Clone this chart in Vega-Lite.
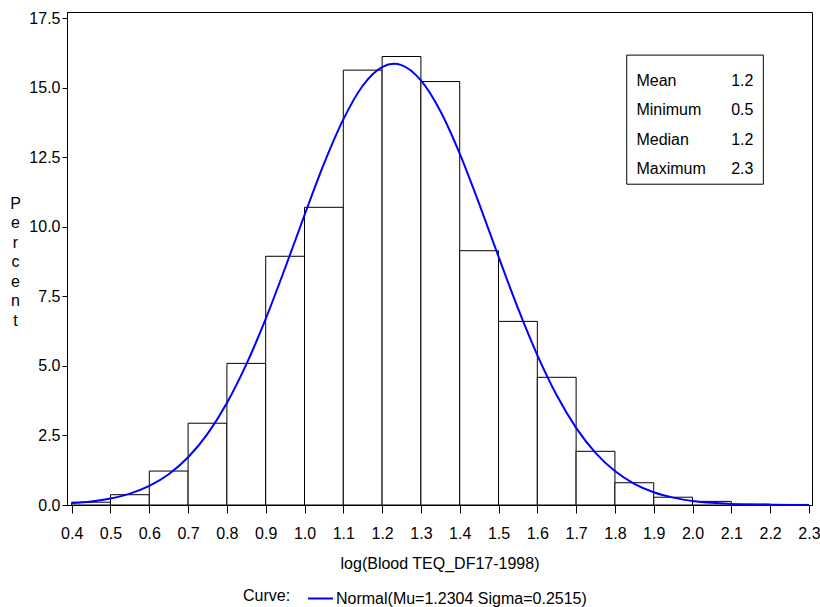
{
  "$schema": "https://vega.github.io/schema/vega-lite/v6.json",
  "autosize": {"type": "none"},
  "width": 745,
  "height": 493,
  "padding": {"left": 67, "top": 12, "right": 8, "bottom": 102},
  "background": "white",
  "config": {
    "font": "Liberation Sans",
    "view": {"stroke": "#000000", "strokeWidth": 1},
    "axis": {"labelFont": "Liberation Sans", "titleFont": "Liberation Sans", "labelFontSize": 16, "titleFontSize": 16, "labelColor": "#000", "titleColor": "#000", "titleFontWeight": "normal", "domainColor": "#000", "tickColor": "#000", "grid": false},
    "legend": {"labelFont": "Liberation Sans", "titleFont": "Liberation Sans"}
  },
  "datasets": {
    "bars": [
      {"bin_start": 0.4, "bin_end": 0.5, "percent": 0.1},
      {"bin_start": 0.5, "bin_end": 0.6, "percent": 0.37},
      {"bin_start": 0.6, "bin_end": 0.7, "percent": 1.22},
      {"bin_start": 0.7, "bin_end": 0.8, "percent": 2.94},
      {"bin_start": 0.8, "bin_end": 0.9, "percent": 5.09},
      {"bin_start": 0.9, "bin_end": 1.0, "percent": 8.94},
      {"bin_start": 1.0, "bin_end": 1.1, "percent": 10.7},
      {"bin_start": 1.1, "bin_end": 1.2, "percent": 15.63},
      {"bin_start": 1.2, "bin_end": 1.3, "percent": 16.12},
      {"bin_start": 1.3, "bin_end": 1.4, "percent": 15.22},
      {"bin_start": 1.4, "bin_end": 1.5, "percent": 9.14},
      {"bin_start": 1.5, "bin_end": 1.6, "percent": 6.6},
      {"bin_start": 1.6, "bin_end": 1.7, "percent": 4.59},
      {"bin_start": 1.7, "bin_end": 1.8, "percent": 1.93},
      {"bin_start": 1.8, "bin_end": 1.9, "percent": 0.8},
      {"bin_start": 1.9, "bin_end": 2.0, "percent": 0.28},
      {"bin_start": 2.0, "bin_end": 2.1, "percent": 0.13},
      {"bin_start": 2.1, "bin_end": 2.2, "percent": 0.03},
      {"bin_start": 2.2, "bin_end": 2.3, "percent": 0.02}
    ],
    "curve": [
      {"x": 0.40, "y": 0.068}, {"x": 0.45, "y": 0.129}, {"x": 0.50, "y": 0.234}, {"x": 0.55, "y": 0.408},
      {"x": 0.60, "y": 0.685}, {"x": 0.65, "y": 1.106}, {"x": 0.70, "y": 1.716}, {"x": 0.75, "y": 2.559},
      {"x": 0.80, "y": 3.667}, {"x": 0.85, "y": 5.053}, {"x": 0.90, "y": 6.691}, {"x": 0.95, "y": 8.518},
      {"x": 1.00, "y": 10.42}, {"x": 1.05, "y": 12.26}, {"x": 1.10, "y": 13.86}, {"x": 1.15, "y": 15.07},
      {"x": 1.20, "y": 15.74}, {"x": 1.2304, "y": 15.86}, {"x": 1.25, "y": 15.81}, {"x": 1.30, "y": 15.26},
      {"x": 1.35, "y": 14.16}, {"x": 1.40, "y": 12.63}, {"x": 1.45, "y": 10.83}, {"x": 1.50, "y": 8.928},
      {"x": 1.55, "y": 7.073}, {"x": 1.60, "y": 5.387}, {"x": 1.65, "y": 3.942}, {"x": 1.70, "y": 2.774},
      {"x": 1.75, "y": 1.876}, {"x": 1.80, "y": 1.22}, {"x": 1.85, "y": 0.763}, {"x": 1.90, "y": 0.458},
      {"x": 1.95, "y": 0.265}, {"x": 2.00, "y": 0.147}, {"x": 2.05, "y": 0.078}, {"x": 2.10, "y": 0.04},
      {"x": 2.15, "y": 0.02}, {"x": 2.20, "y": 0.009}, {"x": 2.25, "y": 0.004}, {"x": 2.30, "y": 0.002}
    ],
    "stats": [
      {"stat": "Mean", "value": "1.2"},
      {"stat": "Minimum", "value": "0.5"},
      {"stat": "Median", "value": "1.2"},
      {"stat": "Maximum", "value": "2.3"}
    ]
  },
  "layer": [
    {
      "layer": [
        {
          "data": {"name": "bars"},
          "mark": {"type": "rect", "fill": "white", "stroke": "#000", "strokeWidth": 1},
          "encoding": {
            "x": {"field": "bin_start", "type": "quantitative",
              "scale": {"domain": [0.3879, 2.3079], "nice": false, "zero": false},
              "axis": {"title": "log(Blood TEQ_DF17-1998)", "values": [0.4,0.5,0.6,0.7,0.8,0.9,1.0,1.1,1.2,1.3,1.4,1.5,1.6,1.7,1.8,1.9,2.0,2.1,2.2,2.3], "format": ".1f", "tickSize": 8, "labelPadding": 12, "titleY": 58, "titleBaseline": "middle", "labelFlush": false, "labelOverlap": false}},
            "x2": {"field": "bin_end"},
            "y": {"field": "percent", "type": "quantitative",
              "scale": {"domain": [0, 17.72], "nice": false},
              "axis": {"title": ["P","e","r","c","e","n","t"], "titleAngle": 0, "titleAlign": "center", "titleBaseline": "middle", "titleLineHeight": 19.5, "titleX": -52, "titleY": 191, "values": [0,2.5,5,7.5,10,12.5,15,17.5], "format": ".1f", "tickSize": 5, "labelPadding": 2}},
            "y2": {"datum": 0}
          }
        },
        {
          "data": {"name": "curve"},
          "mark": {"type": "line", "strokeWidth": 2, "interpolate": "monotone"},
          "encoding": {
            "x": {"field": "x", "type": "quantitative",
              "axis": {"title": "log(Blood TEQ_DF17-1998)", "values": [0.4,0.5,0.6,0.7,0.8,0.9,1.0,1.1,1.2,1.3,1.4,1.5,1.6,1.7,1.8,1.9,2.0,2.1,2.2,2.3], "format": ".1f", "tickSize": 8, "labelPadding": 12, "titleY": 58, "titleBaseline": "middle", "labelFlush": false, "labelOverlap": false}},
            "y": {"field": "y", "type": "quantitative"},
            "color": {"datum": "Normal(Mu=1.2304 Sigma=0.2515)", "type": "nominal",
              "scale": {"range": ["#0000ff"]},
              "legend": {"title": "Curve:", "orient": "none", "legendX": 176, "legendY": 573, "direction": "horizontal", "titleOrient": "left", "titleFontSize": 16, "titleFontWeight": "normal", "titleColor": "#000", "titleBaseline": "middle", "titlePadding": 16, "labelFontSize": 16, "labelColor": "#000", "labelOffset": 2, "labelLimit": 500, "symbolType": "stroke", "symbolSize": 625, "symbolStrokeWidth": 2, "padding": 0}}
          }
        },
        {
          "data": {"values": [{}]},
          "mark": {"type": "rect", "fill": "white", "fillOpacity": 0, "stroke": "#000", "strokeWidth": 1},
          "encoding": {
            "x": {"datum": 1.8304, "type": "quantitative",
              "axis": {"title": "log(Blood TEQ_DF17-1998)", "values": [0.4,0.5,0.6,0.7,0.8,0.9,1.0,1.1,1.2,1.3,1.4,1.5,1.6,1.7,1.8,1.9,2.0,2.1,2.2,2.3], "format": ".1f", "tickSize": 8, "labelPadding": 12, "titleY": 58, "titleBaseline": "middle", "labelFlush": false, "labelOverlap": false}},
            "x2": {"datum": 2.1825},
            "y": {"datum": 16.17, "type": "quantitative"},
            "y2": {"datum": 11.53}
          }
        }
      ]
    },
    {
      "data": {"name": "stats"},
      "layer": [
        {
          "mark": {"type": "text", "align": "left", "baseline": "middle", "fontSize": 16, "color": "#000"},
          "encoding": {
            "x": {"datum": 1.8554, "type": "quantitative",
              "axis": {"title": "log(Blood TEQ_DF17-1998)", "values": [0.4,0.5,0.6,0.7,0.8,0.9,1.0,1.1,1.2,1.3,1.4,1.5,1.6,1.7,1.8,1.9,2.0,2.1,2.2,2.3], "format": ".1f", "tickSize": 8, "labelPadding": 12, "titleY": 58, "titleBaseline": "middle", "labelFlush": false, "labelOverlap": false}},
            "y": {"field": "stat", "type": "ordinal", "sort": ["Mean", "Minimum", "Median", "Maximum"],
              "scale": {"type": "point", "range": [68.7, 157.3], "padding": 0}, "axis": null},
            "text": {"field": "stat"}
          }
        },
        {
          "mark": {"type": "text", "align": "right", "baseline": "middle", "fontSize": 16, "color": "#000"},
          "encoding": {
            "x": {"datum": 2.157, "type": "quantitative",
              "axis": {"title": "log(Blood TEQ_DF17-1998)", "values": [0.4,0.5,0.6,0.7,0.8,0.9,1.0,1.1,1.2,1.3,1.4,1.5,1.6,1.7,1.8,1.9,2.0,2.1,2.2,2.3], "format": ".1f", "tickSize": 8, "labelPadding": 12, "titleY": 58, "titleBaseline": "middle", "labelFlush": false, "labelOverlap": false}},
            "y": {"field": "stat", "type": "ordinal", "sort": ["Mean", "Minimum", "Median", "Maximum"]},
            "text": {"field": "value"}
          }
        }
      ]
    }
  ],
  "resolve": {"scale": {"y": "independent"}}
}
